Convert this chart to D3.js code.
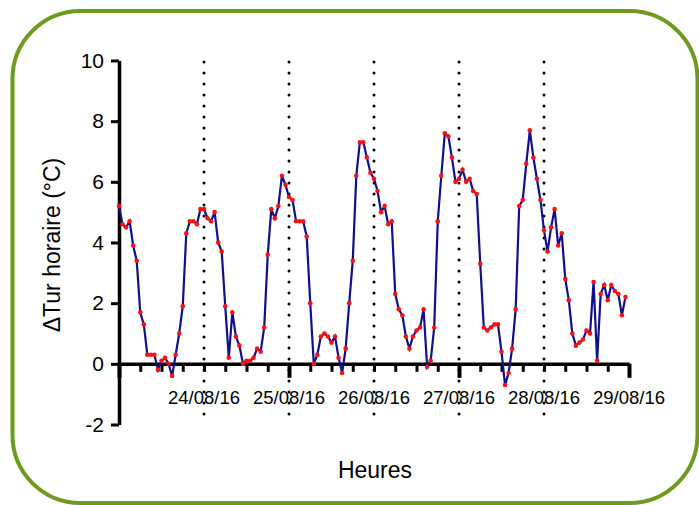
<!DOCTYPE html>
<html>
<head>
<meta charset="utf-8">
<script src="https://cdn.jsdelivr.net/npm/d3@7"></script>
<style>
  body { margin: 0; background: #fff; }
  svg { display: block; font-family: "Liberation Sans", Arial, sans-serif; }
</style>
</head>
<body>
<div id="chart"></div>
<script>
// hourly values, one array per day (starting 23/08/16 00:00)
const day23 = [5.2, 4.6, 4.5, 4.7, 3.9, 3.4, 1.7, 1.3, 0.3, 0.3, 0.3, -0.2, 0.1, 0.2, 0.0, -0.4, 0.3, 1.0, 1.9, 4.3, 4.7, 4.7, 4.6, 5.1];
const day24 = [5.1, 4.8, 4.7, 5.0, 4.0, 3.7, 1.9, 0.2, 1.7, 0.9, 0.6, 0.0, 0.1, 0.1, 0.2, 0.5, 0.4, 1.2, 3.6, 5.1, 4.8, 5.2, 6.2, 5.9];
const day25 = [5.5, 5.4, 4.7, 4.7, 4.7, 4.2, 2.0, 0.0, 0.3, 0.9, 1.0, 0.9, 0.7, 0.9, 0.2, -0.3, 0.5, 2.0, 3.4, 6.2, 7.3, 7.3, 6.8, 6.3];
const day26 = [6.1, 5.7, 5.0, 5.2, 4.6, 4.7, 2.3, 1.8, 1.6, 0.9, 0.5, 0.9, 1.1, 1.2, 1.8, -0.1, 0.1, 1.2, 4.7, 6.2, 7.6, 7.5, 6.8, 6.0];
const day27 = [6.1, 6.4, 6.0, 6.1, 5.7, 5.6, 3.3, 1.2, 1.1, 1.2, 1.3, 1.3, 0.4, -0.7, -0.3, 0.5, 1.8, 5.2, 5.4, 6.6, 7.7, 6.8, 6.1, 5.4];
const day28 = [4.4, 3.7, 4.5, 5.1, 3.9, 4.3, 2.8, 2.1, 1.0, 0.6, 0.7, 0.8, 1.1, 1.0, 2.7, 0.1, 2.3, 2.6, 2.1, 2.6, 2.4, 2.3, 1.6, 2.2];

const dayLabels = ["24/08/16", "25/08/16", "26/08/16", "27/08/16", "28/08/16", "29/08/16"];
const yTicks = [-2, 0, 2, 4, 6, 8, 10];

const start = new Date(2016, 7, 23, 0, 0);
const end = new Date(2016, 7, 29, 0, 0);

const values = [].concat(day23, day24, day25, day26, day27, day28);
const data = values.map((v, i) => ({ t: d3.timeHour.offset(start, i), v: v }));

const W = 699, H = 505;
const svg = d3.select('#chart').append('svg')
  .attr('width', W)
  .attr('height', H);

// green rounded frame
svg.append('rect')
  .attr('x', 12.5)
  .attr('y', 11)
  .attr('width', 685)
  .attr('height', 492)
  .attr('rx', 68)
  .attr('fill', 'none')
  .attr('stroke', '#6e9a1f')
  .attr('stroke-width', 4);

const x = d3.scaleTime().domain([start, end]).range([119, 629]);
const y = d3.scaleLinear().domain([-2, 10]).range([424.5, 60.5]);

// dotted day separators
const separators = dayLabels.slice(0, 5).map((d, i) => d3.timeDay.offset(start, i + 1));
svg.selectAll('.sep')
  .data(separators)
  .enter().append('line')
  .attr('class', 'sep')
  .attr('x1', d => x(d))
  .attr('x2', d => x(d))
  .attr('y1', 62)
  .attr('y2', 424)
  .attr('stroke', '#000')
  .attr('stroke-width', 3)
  .attr('stroke-linecap', 'round')
  .attr('stroke-dasharray', '0,11');

// y axis
const yAxis = svg.append('g')
  .attr('transform', `translate(${x.range()[0]},0)`)
  .call(d3.axisLeft(y).tickValues(yTicks).tickSize(8).tickSizeOuter(0).tickPadding(7)
    .tickFormat(d => String(d)));
yAxis.select('.domain').attr('stroke-width', 3.5);
yAxis.selectAll('.tick line').attr('stroke-width', 3);
yAxis.selectAll('.tick text')
  .style('font-size', '21px')
  .attr('fill', '#000');

// x axis: minor ticks every 6 h
const xMinor = svg.append('g')
  .attr('transform', `translate(0,${y(0)})`)
  .call(d3.axisBottom(x).ticks(d3.timeHour.every(6)).tickSize(8).tickSizeOuter(0).tickFormat(''));
xMinor.select('.domain').attr('stroke-width', 3.5);
xMinor.selectAll('.tick line').attr('stroke-width', 3);

// x axis: major ticks every 2 days
const xMajor = svg.append('g')
  .attr('transform', `translate(0,${y(0)})`)
  .call(d3.axisBottom(x).ticks(d3.timeDay.every(2)).tickSize(14).tickSizeOuter(0).tickFormat(''));
xMajor.select('.domain').remove();
xMajor.selectAll('.tick line').attr('stroke-width', 4);

// day labels
const labelDays = dayLabels.map((d, i) => d3.timeDay.offset(start, i + 1));
svg.selectAll('.daylab')
  .data(labelDays)
  .enter().append('text')
  .attr('class', 'daylab')
  .attr('x', d => x(d))
  .attr('y', 404)
  .attr('text-anchor', 'middle')
  .style('font-size', '18.5px')
  .text((d, i) => dayLabels[i]);

// line + points
const line = d3.line().x(d => x(d.t)).y(d => y(d.v));
svg.append('path')
  .datum(data)
  .attr('d', line)
  .attr('fill', 'none')
  .attr('stroke', '#10108a')
  .attr('stroke-width', 2.2);

svg.selectAll('.pt')
  .data(data)
  .enter().append('circle')
  .attr('class', 'pt')
  .attr('cx', d => x(d.t))
  .attr('cy', d => y(d.v))
  .attr('r', 2.3)
  .attr('fill', '#ff1010');

// axis titles
svg.append('text')
  .attr('transform', `translate(60,245) rotate(-90)`)
  .attr('text-anchor', 'middle')
  .style('font-size', '23px')
  .text('ΔTur horaire (°C)');

svg.append('text')
  .attr('x', 375)
  .attr('y', 478)
  .attr('text-anchor', 'middle')
  .style('font-size', '23px')
  .text('Heures');
</script>
</body>
</html>
